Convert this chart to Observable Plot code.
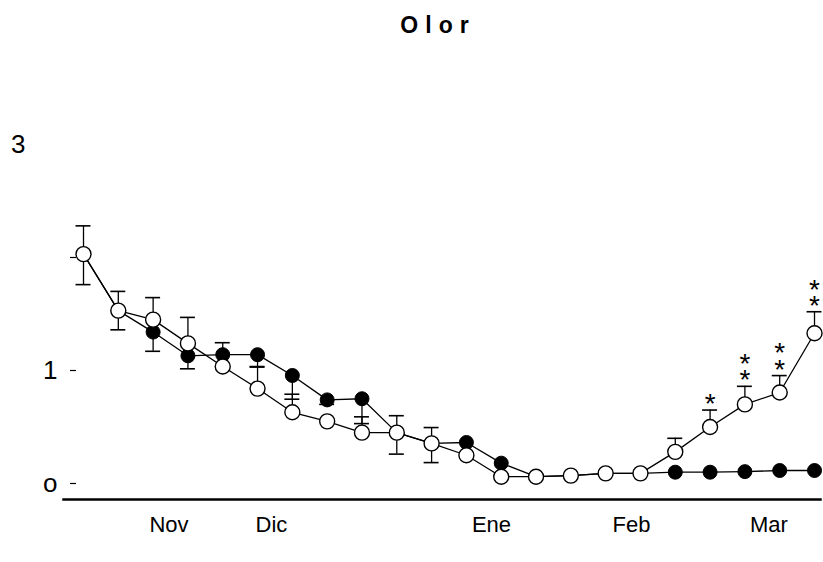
<!DOCTYPE html>
<html>
<head>
<meta charset="utf-8">
<script src="https://cdn.jsdelivr.net/npm/d3@7"></script>
<script src="https://cdn.jsdelivr.net/npm/@observablehq/plot@0.6"></script>
<style>
  body { margin: 0; background: #fff; }
  #chart svg { display: block; }
</style>
</head>
<body>
<div id="chart"></div>
<script>
// ---- data ----
const titleText = "Olor";
const sample = [0,1,2,3,4,5,6,7,8,9,10,11,12,13,14,15,16,17,18,19,20,21];

const openMean    = [2.03, 1.53, 1.45, 1.24, 1.035, 0.84, 0.63, 0.55, 0.45, 0.45, 0.355, 0.25, 0.06, 0.06, 0.07, 0.09, 0.09, 0.28, 0.50, 0.70, 0.805, 1.33];
const openErrUp   = [0.25, 0.17, 0.195, 0.23, 0, 0.19, 0.16, 0, 0.14, 0.15, 0.14, 0, 0, 0, 0, 0, 0, 0.12, 0.15, 0.16, 0.15, 0.19];
const openErrDown = [0.27, 0.17, 0, 0, 0, 0, 0, 0, 0, 0.19, 0.17, 0, 0, 0, 0, 0, 0, 0, 0, 0, 0, 0];

const closedMean    = [2.03, 1.53, 1.34, 1.13, 1.14, 1.14, 0.956, 0.74, 0.75, 0.45, 0.355, 0.363, 0.18, 0.06, 0.07, 0.09, 0.09, 0.10, 0.10, 0.105, 0.115, 0.115];
const closedErrUp   = [0, 0, 0, 0, 0.106, 0, 0, 0, 0, 0, 0, 0, 0, 0, 0, 0, 0, 0, 0, 0, 0, 0];
const closedErrDown = [0, 0, 0.17, 0.115, 0, 0.105, 0.21, 0.04, 0.22, 0, 0, 0, 0, 0, 0, 0, 0, 0, 0, 0, 0, 0];

const significance = [0, 0, 0, 0, 0, 0, 0, 0, 0, 0, 0, 0, 0, 0, 0, 0, 0, 0, 1, 2, 2, 2];

const monthNames = ["Nov", "Dic", "Ene", "Feb", "Mar"];
const monthPos   = [2.456, 5.40, 11.72, 15.74, 19.69];

const yTickMarks  = [0, 1, 2];
const yTickValues = [0, 1, 3];
const yTickLabels = ["o", "1", "3"];

// ---- derived tables ----
const openRows = sample.map((s, k) => ({i: s, v: openMean[k], up: openErrUp[k], dn: openErrDown[k], st: significance[k]}));
const closedRows = sample.map((s, k) => ({i: s, v: closedMean[k], up: closedErrUp[k], dn: closedErrDown[k]}));

function errRows(rows) {
  const out = [];
  for (const r of rows) {
    if (r.up > 0) out.push({i: r.i, y1: r.v, y2: r.v + r.up});
    if (r.dn > 0) out.push({i: r.i, y1: r.v, y2: r.v - r.dn});
  }
  return out;
}
const errs = [...errRows(closedRows), ...errRows(openRows)];
const starRows = openRows.filter(r => r.st > 0).map(r => ({i: r.i, top: r.v + r.up, label: Array(r.st).fill("*").join("\n")}));
const capHalf = 0.215;

const chart = Plot.plot({
  width: 823,
  height: 562,
  marginTop: 144,
  marginBottom: 63,
  marginLeft: 63,
  marginRight: 3,
  x: {domain: [-0.5745, 21.172], label: null},
  y: {domain: [-0.1416, 3], label: null},
  style: {fontFamily: "'Liberation Sans', Arial, sans-serif", color: "#000", background: "#fff"},
  marks: [
    // title
    Plot.text([titleText], {text: d => d, frameAnchor: "top", lineAnchor: "bottom", dy: -112, dx: -4,
      fontSize: 23, fontWeight: "bold", fill: "#000"}),
    Plot.frame({anchor: "bottom", strokeWidth: 2.5, stroke: "#000"}),
    // y ticks (marks only)
    Plot.axisY({ticks: yTickMarks, tickSize: 6, tickFormat: () => "", dx: 13, strokeWidth: 1.2, label: null}),
    // y labels
    Plot.axisY({ticks: yTickValues.slice(0, 2), tickSize: 0, tickPadding: 6, fontSize: 26,
      tickFormat: d => yTickLabels[yTickValues.indexOf(d)], label: null}),
    Plot.axisY({ticks: yTickValues.slice(2), tickSize: 0, tickPadding: 38, fontSize: 26,
      tickFormat: d => yTickLabels[yTickValues.indexOf(d)], label: null}),
    // x month labels
    Plot.axisX({ticks: monthPos, tickSize: 0, tickPadding: 17, fontSize: 22,
      tickFormat: d => monthNames[monthPos.indexOf(d)], label: null}),
    // lines
    Plot.line(closedRows, {x: "i", y: "v", stroke: "#000", strokeWidth: 1.3}),
    Plot.line(openRows, {x: "i", y: "v", stroke: "#000", strokeWidth: 1.3}),
    // error bars
    Plot.ruleX(errs, {x: "i", y1: "y1", y2: "y2", stroke: "#000", strokeWidth: 1.3}),
    Plot.ruleY(errs, {y: "y2", x1: d => d.i - capHalf, x2: d => d.i + capHalf, stroke: "#000", strokeWidth: 1.6}),
    // dots
    Plot.dot(closedRows, {x: "i", y: "v", r: 7, fill: "#000", stroke: "#000", strokeWidth: 1}),
    Plot.dot(openRows, {x: "i", y: "v", r: 7.5, fill: "#fff", stroke: "#000", strokeWidth: 1.4}),
    // significance asterisks
    Plot.text(starRows, {x: "i", y: "top", text: "label", lineAnchor: "bottom", lineHeight: 0.58,
      dy: 3, fontSize: 28, fill: "#000"})
  ]
});
d3.select(chart).selectAll("text").filter(function () { return this.textContent === titleText; })
  .attr("letter-spacing", 7);
document.getElementById("chart").appendChild(chart);
</script>
</body>
</html>
